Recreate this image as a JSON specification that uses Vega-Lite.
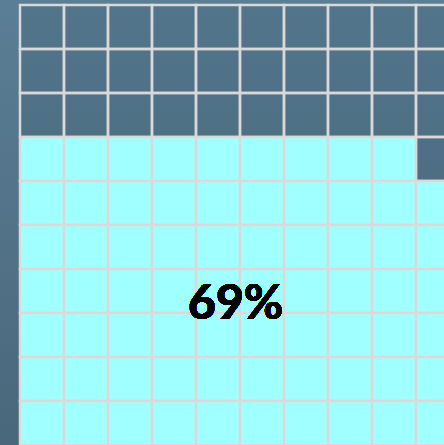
{
  "$schema": "https://vega.github.io/schema/vega-lite/v6.json",
  "width": 444,
  "height": 445,
  "autosize": "none",
  "padding": 0,
  "background": "#52748a",
  "config": {
    "view": {
      "stroke": null,
      "fill": {"gradient": "linear", "x1": 0, "y1": 0, "x2": 0, "y2": 1, "stops": [{"offset": 0, "color": "#5a7e95"}, {"offset": 1, "color": "#4a677b"}]}
    }
  },
  "data": {
    "values": [
      {"col": 0, "row": 0, "status": "empty"}, {"col": 1, "row": 0, "status": "empty"}, {"col": 2, "row": 0, "status": "empty"}, {"col": 3, "row": 0, "status": "empty"}, {"col": 4, "row": 0, "status": "empty"}, {"col": 5, "row": 0, "status": "empty"}, {"col": 6, "row": 0, "status": "empty"}, {"col": 7, "row": 0, "status": "empty"}, {"col": 8, "row": 0, "status": "empty"}, {"col": 9, "row": 0, "status": "empty"},
      {"col": 0, "row": 1, "status": "empty"}, {"col": 1, "row": 1, "status": "empty"}, {"col": 2, "row": 1, "status": "empty"}, {"col": 3, "row": 1, "status": "empty"}, {"col": 4, "row": 1, "status": "empty"}, {"col": 5, "row": 1, "status": "empty"}, {"col": 6, "row": 1, "status": "empty"}, {"col": 7, "row": 1, "status": "empty"}, {"col": 8, "row": 1, "status": "empty"}, {"col": 9, "row": 1, "status": "empty"},
      {"col": 0, "row": 2, "status": "empty"}, {"col": 1, "row": 2, "status": "empty"}, {"col": 2, "row": 2, "status": "empty"}, {"col": 3, "row": 2, "status": "empty"}, {"col": 4, "row": 2, "status": "empty"}, {"col": 5, "row": 2, "status": "empty"}, {"col": 6, "row": 2, "status": "empty"}, {"col": 7, "row": 2, "status": "empty"}, {"col": 8, "row": 2, "status": "empty"}, {"col": 9, "row": 2, "status": "empty"},
      {"col": 0, "row": 3, "status": "filled"}, {"col": 1, "row": 3, "status": "filled"}, {"col": 2, "row": 3, "status": "filled"}, {"col": 3, "row": 3, "status": "filled"}, {"col": 4, "row": 3, "status": "filled"}, {"col": 5, "row": 3, "status": "filled"}, {"col": 6, "row": 3, "status": "filled"}, {"col": 7, "row": 3, "status": "filled"}, {"col": 8, "row": 3, "status": "filled"}, {"col": 9, "row": 3, "status": "empty"},
      {"col": 0, "row": 4, "status": "filled"}, {"col": 1, "row": 4, "status": "filled"}, {"col": 2, "row": 4, "status": "filled"}, {"col": 3, "row": 4, "status": "filled"}, {"col": 4, "row": 4, "status": "filled"}, {"col": 5, "row": 4, "status": "filled"}, {"col": 6, "row": 4, "status": "filled"}, {"col": 7, "row": 4, "status": "filled"}, {"col": 8, "row": 4, "status": "filled"}, {"col": 9, "row": 4, "status": "filled"},
      {"col": 0, "row": 5, "status": "filled"}, {"col": 1, "row": 5, "status": "filled"}, {"col": 2, "row": 5, "status": "filled"}, {"col": 3, "row": 5, "status": "filled"}, {"col": 4, "row": 5, "status": "filled"}, {"col": 5, "row": 5, "status": "filled"}, {"col": 6, "row": 5, "status": "filled"}, {"col": 7, "row": 5, "status": "filled"}, {"col": 8, "row": 5, "status": "filled"}, {"col": 9, "row": 5, "status": "filled"},
      {"col": 0, "row": 6, "status": "filled"}, {"col": 1, "row": 6, "status": "filled"}, {"col": 2, "row": 6, "status": "filled"}, {"col": 3, "row": 6, "status": "filled"}, {"col": 4, "row": 6, "status": "filled"}, {"col": 5, "row": 6, "status": "filled"}, {"col": 6, "row": 6, "status": "filled"}, {"col": 7, "row": 6, "status": "filled"}, {"col": 8, "row": 6, "status": "filled"}, {"col": 9, "row": 6, "status": "filled"},
      {"col": 0, "row": 7, "status": "filled"}, {"col": 1, "row": 7, "status": "filled"}, {"col": 2, "row": 7, "status": "filled"}, {"col": 3, "row": 7, "status": "filled"}, {"col": 4, "row": 7, "status": "filled"}, {"col": 5, "row": 7, "status": "filled"}, {"col": 6, "row": 7, "status": "filled"}, {"col": 7, "row": 7, "status": "filled"}, {"col": 8, "row": 7, "status": "filled"}, {"col": 9, "row": 7, "status": "filled"},
      {"col": 0, "row": 8, "status": "filled"}, {"col": 1, "row": 8, "status": "filled"}, {"col": 2, "row": 8, "status": "filled"}, {"col": 3, "row": 8, "status": "filled"}, {"col": 4, "row": 8, "status": "filled"}, {"col": 5, "row": 8, "status": "filled"}, {"col": 6, "row": 8, "status": "filled"}, {"col": 7, "row": 8, "status": "filled"}, {"col": 8, "row": 8, "status": "filled"}, {"col": 9, "row": 8, "status": "filled"},
      {"col": 0, "row": 9, "status": "filled"}, {"col": 1, "row": 9, "status": "filled"}, {"col": 2, "row": 9, "status": "filled"}, {"col": 3, "row": 9, "status": "filled"}, {"col": 4, "row": 9, "status": "filled"}, {"col": 5, "row": 9, "status": "filled"}, {"col": 6, "row": 9, "status": "filled"}, {"col": 7, "row": 9, "status": "filled"}, {"col": 8, "row": 9, "status": "filled"}, {"col": 9, "row": 9, "status": "filled"}
    ]
  },
  "layer": [
    {
      "mark": {"type": "rect", "stroke": "#d9d9d9", "strokeWidth": 2.5},
      "encoding": {
        "x": {"field": "col", "type": "ordinal", "scale": {"range": [20, 460], "paddingInner": 0, "paddingOuter": 0}, "axis": null},
        "y": {"field": "row", "type": "ordinal", "scale": {"range": [5, 445], "paddingInner": 0, "paddingOuter": 0}, "axis": null},
        "fill": {"field": "status", "type": "nominal", "scale": {"domain": ["filled", "empty"], "range": ["#a0ffff", "rgba(60,90,112,0.25)"]}, "legend": null}
      }
    },
    {
      "mark": {"type": "text", "text": "69%", "font": "Lato", "fontSize": 48, "fontWeight": "bold", "color": "#000000", "align": "center", "baseline": "middle"},
      "encoding": {
        "x": {"datum": 4, "type": "ordinal", "bandPosition": 0.9},
        "y": {"datum": 6, "type": "ordinal", "bandPosition": 0.82}
      }
    }
  ]
}
